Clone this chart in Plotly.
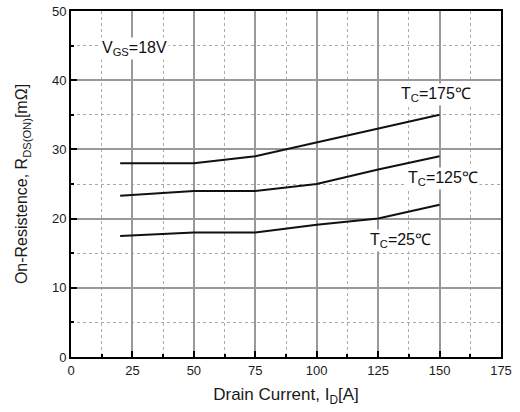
import plotly.graph_objects as go

drain_current = [20, 50, 75, 100, 125, 150]
r_175 = [28.0, 28.0, 29.0, 31.0, 33.0, 35.0]
r_125 = [23.3, 24.0, 24.0, 25.0, 27.1, 29.0]
r_25 = [17.5, 18.0, 18.0, 19.1, 20.0, 22.0]

series = [("T_C=175℃", r_175), ("T_C=125℃", r_125), ("T_C=25℃", r_25)]

fig = go.Figure()
for name, vals in series:
    fig.add_trace(go.Scatter(x=drain_current, y=vals, mode="lines", name=name,
                             line=dict(color="#111111", width=2), showlegend=False))

FONT = "Liberation Sans, Arial, sans-serif"
font = dict(family=FONT, color="#1a1a1a", size=13)

annotations = [
    dict(x=11.8, y=44.6, text="V<sub>GS</sub>=18V", xanchor="left"),
    dict(x=148.5, y=38, text="T<sub>C</sub>=175℃", xanchor="center"),
    dict(x=151.5, y=25.8, text="T<sub>C</sub>=125℃", xanchor="center"),
    dict(x=134, y=16.9, text="T<sub>C</sub>=25℃", xanchor="center"),
]
for a in annotations:
    fig.add_annotation(x=a["x"], y=a["y"], text=a["text"], xanchor=a["xanchor"],
                       yanchor="middle", showarrow=False,
                       font=dict(family=FONT, size=16, color="#111"),
                       bgcolor="white")

axis_common = dict(
    showline=True, linecolor="black", linewidth=2, mirror=True,
    ticks="inside", ticklen=6, tickwidth=1.5, tickcolor="black",
    showgrid=True, gridcolor="#999999", gridwidth=1.5,
    zeroline=False, tickfont=font, automargin=False,
)

fig.update_xaxes(range=[0, 175], tick0=0, dtick=25,
                 minor=dict(dtick=12.5, showgrid=True, gridcolor="#aaaaaa", griddash="dot",
                            gridwidth=1, ticks="inside", ticklen=3, tickcolor="black"),
                 title=dict(text="Drain Current, I<sub>D</sub>[A]",
                            font=dict(family=FONT, size=17, color="#1a1a1a"),
                            standoff=12),
                 **axis_common)
fig.update_yaxes(range=[0, 50], tick0=0, dtick=10,
                 minor=dict(dtick=5, showgrid=True, gridcolor="#aaaaaa", griddash="dot",
                            gridwidth=1, ticks="inside", ticklen=3, tickcolor="black"),
                 title=dict(text="On-Resistence, R<sub>DS(ON)</sub>[mΩ]",
                            font=dict(family=FONT, size=16, color="#1a1a1a"),
                            standoff=20),
                 **axis_common)

fig.update_layout(width=520, height=412, margin=dict(l=71, r=19, t=11, b=55, autoexpand=False),
                  plot_bgcolor="white", paper_bgcolor="white")

fig.write_html("out.html", config={"displayModeBar": False},
               post_script="document.body.style.margin='0px';")
